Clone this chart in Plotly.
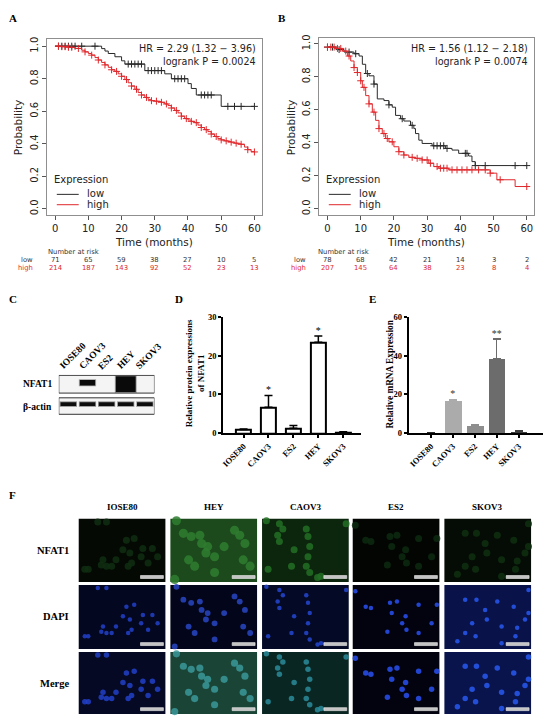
import numpy as np
import plotly.graph_objects as go

W, H = 550, 726

# ======================= DATA =======================
# --- Panel A : Kaplan-Meier ---
A_low_t = [0, 14, 15, 16, 18, 20, 21, 27, 33, 35, 40, 41, 42.5, 50, 60]
A_low_s = [1.0, 0.985, 0.97, 0.955, 0.935, 0.91, 0.89, 0.85, 0.83, 0.80, 0.77, 0.74, 0.70, 0.63, 0.63]
A_low_cens = [1, 2, 3, 4, 5, 6, 8, 12, 22, 23, 24, 25, 26, 28, 29, 30, 31, 32,
              36, 37, 38, 39, 44, 45, 46, 47, 52, 54, 56, 60]
A_high_t = [0, 2, 4, 6, 8, 9, 10, 11, 12, 13, 14, 15, 16, 17, 18, 19, 20, 21, 22, 23,
            24, 25, 26, 27, 28, 29, 30, 31, 32, 33, 34, 35, 36, 37, 38, 39, 40, 41, 42,
            43, 44, 45, 46, 47, 48, 49, 50, 51, 52, 53, 54, 55, 56, 57, 58, 59, 60]
A_high_s = [1.0, 0.997, 0.993, 0.986, 0.975, 0.965, 0.955, 0.945, 0.93, 0.915, 0.90,
            0.885, 0.87, 0.855, 0.845, 0.83, 0.815, 0.795, 0.775, 0.755, 0.735, 0.715,
            0.70, 0.685, 0.673, 0.665, 0.662, 0.66, 0.655, 0.645, 0.635, 0.62, 0.605,
            0.59, 0.57, 0.555, 0.546, 0.538, 0.53, 0.515, 0.50, 0.487, 0.475, 0.46,
            0.445, 0.432, 0.424, 0.418, 0.414, 0.41, 0.404, 0.40, 0.397, 0.38, 0.364,
            0.352, 0.35]
A_high_cens = [1, 2, 3, 4, 5, 7, 9, 11, 13, 15, 17, 18.5, 20, 21.5, 23, 24.5, 26, 27.5,
               29, 30.5, 32, 33.5, 35, 36.5, 38, 39.5, 41, 42.5, 44, 45.5, 47, 48.5, 50,
               51.5, 53, 54.5, 56, 58, 60]
A_hr = "HR = 2.29 (1.32 \u2212 3.96)"
A_p = "logrank P = 0.0024"

# --- Panel B : Kaplan-Meier ---
B_low_t = [0, 3, 5, 8, 9.5, 10.5, 11.5, 12.5, 14, 15, 17, 18.5, 19.5, 20.5, 22, 23, 25,
           26, 26.5, 27.5, 28.5, 31.5, 35.5, 37.5, 39.5, 42.5, 43.5, 44.5, 60]
B_low_s = [0.98, 0.965, 0.95, 0.94, 0.926, 0.876, 0.82, 0.806, 0.756, 0.666, 0.656, 0.63,
           0.616, 0.566, 0.546, 0.532, 0.506, 0.486, 0.456, 0.416, 0.396, 0.382, 0.366,
           0.356, 0.336, 0.32, 0.286, 0.262, 0.262]
B_low_cens = [0, 1.5, 3.5, 6.5, 8.5, 12, 14, 18.5, 22.5, 25.5, 32, 33, 34, 35, 36, 41.5,
              42, 44.5, 47.5, 56.5, 60]
B_high_t = [0, 2.5, 4.5, 6, 7, 8, 9, 10, 10.5, 11.5, 12.5, 13.5, 14.5, 15.5, 16.5, 17.5,
            18.5, 20, 21.5, 23, 24.5, 26.5, 28.5, 30.5, 32, 33.5, 36.5, 49, 51, 56.5, 60]
B_high_s = [0.98, 0.972, 0.956, 0.926, 0.896, 0.856, 0.826, 0.776, 0.736, 0.686, 0.636,
            0.586, 0.536, 0.486, 0.456, 0.426, 0.406, 0.376, 0.346, 0.326, 0.312, 0.306,
            0.296, 0.276, 0.256, 0.246, 0.236, 0.216, 0.176, 0.135, 0.135]
B_high_cens = [0, 1, 2, 3, 4, 5.5, 6.5, 8, 9, 10, 11, 12.5, 14, 15.5, 17, 18, 19.5, 21.5,
               23, 25.5, 27, 28.5, 30, 31, 33, 34, 35, 36, 37.5, 39, 40.5, 42, 43.5, 45.5,
               47.5, 49, 52, 60]
B_hr = "HR = 1.56 (1.12 \u2212 2.18)"
B_p = "logrank P = 0.0074"

# --- Numbers at risk ---
risk_times = [0, 10, 20, 30, 40, 50, 60]
A_risk_low = [71, 65, 59, 38, 27, 10, 5]
A_risk_high = [214, 187, 143, 92, 52, 23, 13]
B_risk_low = [78, 68, 42, 21, 14, 3, 2]
B_risk_high = [207, 145, 64, 38, 23, 8, 4]

# --- Panels C/D/E ---
cells = ["IOSE80", "CAOV3", "ES2", "HEY", "SKOV3"]
blot_nfat1 = [0.0, 0.25, 0.0, 1.0, 0.0]      # relative band strength
blot_actin = [1.0, 1.0, 1.0, 1.0, 1.0]
D_mean = [1.0, 6.7, 1.3, 23.4, 0.3]
D_err = [0.1, 3.0, 0.7, 1.6, 0.1]
D_sig = ["", "*", "", "*", ""]
E_mean = [0.3, 16.8, 3.8, 38.3, 0.8]
E_err = [0.1, 0.4, 0.8, 10.2, 0.4]
E_sig = ["", "*", "", "**", ""]

# --- Panel F : immunofluorescence ---
F_cols = ["IOSE80", "HEY", "CAOV3", "ES2", "SKOV3"]
F_rows = ["NFAT1", "DAPI", "Merge"]
F_nuclei_u = {
    "IOSE80": [0.22, 0.32, 0.55, 0.64, 0.59, 0.51, 0.74, 0.85, 0.91, 0.72, 0.43, 0.28, 0.26, 0.32, 0.61, 0.80, 0.07, 0.11, 0.38, 0.57],
    "HEY":    [0.07, 0.15, 0.24, 0.34, 0.36, 0.43, 0.41, 0.51, 0.62, 0.74, 0.80, 0.86, 0.84, 0.92, 0.21, 0.28, 0.05, 0.51],
    "CAOV3":  [0.20, 0.24, 0.18, 0.20, 0.51, 0.53, 0.55, 0.53, 0.51, 0.55, 0.37, 0.68, 0.97, 0.05, 0.07, 0.64, 0.34],
    "ES2":    [0.03, 0.15, 0.43, 0.51, 0.76, 0.97, 0.45, 0.61, 0.57, 0.40, 0.62, 0.76, 0.91, 0.21],
    "SKOV3":  [0.24, 0.37, 0.47, 0.61, 0.80, 0.97, 0.93, 0.32, 0.49, 0.66, 0.84, 0.36, 0.15, 0.24, 0.66, 0.82, 0.97],
}
F_nuclei_v = {
    "IOSE80": [0.05, 0.05, 0.34, 0.31, 0.54, 0.49, 0.47, 0.47, 0.60, 0.60, 0.65, 0.65, 0.73, 0.75, 0.70, 0.70, 0.80, 0.80, 0.75, 0.75],
    "HEY":    [0.03, 0.23, 0.28, 0.26, 0.39, 0.44, 0.54, 0.60, 0.44, 0.18, 0.26, 0.39, 0.65, 0.75, 0.65, 0.75, 0.96, 0.85],
    "CAOV3":  [0.08, 0.16, 0.26, 0.36, 0.16, 0.28, 0.44, 0.60, 0.75, 0.85, 0.49, 0.91, 0.08, 0.03, 0.80, 0.93, 0.75],
    "ES2":    [0.10, 0.34, 0.28, 0.26, 0.31, 0.31, 0.44, 0.49, 0.60, 0.73, 0.70, 0.75, 0.60, 0.36],
    "SKOV3":  [0.23, 0.23, 0.39, 0.26, 0.34, 0.44, 0.54, 0.60, 0.54, 0.65, 0.67, 0.80, 0.88, 0.75, 0.91, 0.80, 0.08],
}

# ======================= STYLE =======================
RED = "#e0282c"
BLK = "#2a2a2a"
SANS = "DejaVu Sans"
SERIF = "Liberation Serif"

F_bg = {
    "NFAT1": {"IOSE80": "#040904", "HEY": "#1c4a1c", "CAOV3": "#0c250d", "ES2": "#030503", "SKOV3": "#050c05"},
    "DAPI":  {"IOSE80": "#040720", "HEY": "#03051a", "CAOV3": "#040926", "ES2": "#02030e", "SKOV3": "#09134a"},
    "Merge": {"IOSE80": "#050924", "HEY": "#1a4436", "CAOV3": "#0a2622", "ES2": "#02030e", "SKOV3": "#0a144c"},
}
F_cell = {
    "NFAT1": {"IOSE80": "#0f2e10", "HEY": "#2f7d30", "CAOV3": "#236e25", "ES2": "#0d2a10", "SKOV3": "#0f3011"},
    "DAPI":  {"IOSE80": "#2240c8", "HEY": "#2846c4", "CAOV3": "#2446d0", "ES2": "#2850f0", "SKOV3": "#2858f0"},
    "Merge": {"IOSE80": "#2240c8", "HEY": "#3a9898", "CAOV3": "#2a8c9a", "ES2": "#2850f0", "SKOV3": "#2858f0"},
}
F_size = {"NFAT1": 7, "DAPI": 4.5, "Merge": 5.5}
col_x0 = [77, 169, 261, 352, 444]
col_w = 87
row_y0 = [521, 588, 656]
row_h = [64, 65, 63]

fig = go.Figure()


def step_val(t, s, c):
    idx = np.searchsorted(np.array(t), np.array(c), side="right") - 1
    return np.array(s)[idx]


# ---------- KM curves ----------
km = [
    ("x", "y", A_low_t, A_low_s, A_low_cens, BLK),
    ("x", "y", A_high_t, A_high_s, A_high_cens, RED),
    ("x2", "y2", B_low_t, B_low_s, B_low_cens, BLK),
    ("x2", "y2", B_high_t, B_high_s, B_high_cens, RED),
]
for xa, ya, t, s, cens, col in km:
    fig.add_trace(go.Scatter(x=t, y=s, mode="lines", line=dict(color=col, width=1, shape="hv"),
                             xaxis=xa, yaxis=ya, showlegend=False, hoverinfo="skip"))
    fig.add_trace(go.Scatter(x=cens, y=step_val(t, s, cens), mode="markers",
                             marker=dict(symbol="cross-thin", size=5, line=dict(color=col, width=1)),
                             xaxis=xa, yaxis=ya, showlegend=False, hoverinfo="skip"))

# ---------- Panel D bars ----------
xs = list(range(len(cells)))
fig.add_trace(go.Bar(x=xs, y=D_mean, width=0.6, xaxis="x3", yaxis="y3",
                     marker=dict(color="white", line=dict(color="black", width=2)),
                     error_y=dict(type="data", symmetric=False, array=D_err, arrayminus=[0] * 5,
                                  color="black", thickness=1.5, width=4),
                     showlegend=False))
fig.add_trace(go.Scatter(x=xs, y=[m + e for m, e in zip(D_mean, D_err)], text=D_sig, mode="text",
                         textposition="top center", xaxis="x3", yaxis="y3",
                         textfont=dict(family=SERIF, size=10, color="black"), showlegend=False))

# ---------- Panel E bars ----------
E_colors = ["#2c2c2c", "#ababab", "#8e8e8e", "#6c6c6c", "#3c3c3c"]
for i in xs:
    fig.add_trace(go.Bar(x=[i], y=[E_mean[i]], width=0.75, xaxis="x4", yaxis="y4",
                         marker=dict(color=E_colors[i], line=dict(width=0)),
                         error_y=dict(type="data", symmetric=False, array=[E_err[i]], arrayminus=[0],
                                      color=E_colors[i], thickness=1.5, width=4),
                         showlegend=False))
fig.add_trace(go.Scatter(x=xs, y=[m + e for m, e in zip(E_mean, E_err)], text=E_sig, mode="text",
                         textposition="top center", xaxis="x4", yaxis="y4",
                         textfont=dict(family=SERIF, size=10, color="#333"), showlegend=False))

# ---------- Panel F cells ----------
shapes = []
for r, row in enumerate(F_rows):
    for c, line in enumerate(F_cols):
        x0, y0, h = col_x0[c], row_y0[r], row_h[r]
        shapes.append(dict(type="rect", xref="x6", yref="y6", x0=x0, x1=x0 + col_w, y0=y0, y1=y0 + h,
                           fillcolor=F_bg[row][line], line=dict(width=0), layer="below"))
        u = np.array(F_nuclei_u[line])
        v = np.array(F_nuclei_v[line])
        sz = F_size[row] * (1.3 if line == "HEY" else 1.0)
        fig.add_trace(go.Scatter(x=x0 + u * col_w, y=y0 + v * h, mode="markers", xaxis="x6", yaxis="y6",
                                 marker=dict(color=F_cell[row][line], size=sz, line=dict(width=0),
                                             opacity=0.85),
                                 showlegend=False, hoverinfo="skip"))
        shapes.append(dict(type="rect", xref="x6", yref="y6", x0=x0 + 62, x1=x0 + 85,
                           y0=y0 + h - 6.5, y1=y0 + h - 3.5, fillcolor="#c4c4c4",
                           line=dict(color="#eeeeee", width=0.6)))

# ---------- Panel C blot ----------
shapes.append(dict(type="rect", xref="x5", yref="y5", x0=-0.5, x1=4.5, y0=375.5, y1=393.5,
                   fillcolor="#f4f4f4", line=dict(color="#333", width=1), layer="below"))
shapes.append(dict(type="rect", xref="x5", yref="y5", x0=-0.5, x1=4.5, y0=398.3, y1=415,
                   fillcolor="#f4f4f4", line=dict(color="#333", width=1), layer="below"))
for i, lvl in enumerate(blot_nfat1):
    if lvl > 0:
        hw = 0.36 + 0.16 * lvl
        th = 2 + 14 * lvl
        yc = 382.5 + 2 * lvl
        shapes.append(dict(type="rect", xref="x5", yref="y5", x0=i - hw - 0.05, x1=i + hw + 0.05,
                           y0=yc - th / 2 - 0.8, y1=yc + th / 2 + 0.8, fillcolor="rgba(60,60,60,0.45)",
                           line=dict(width=0)))
        shapes.append(dict(type="rect", xref="x5", yref="y5", x0=i - hw, x1=i + hw,
                           y0=yc - th / 2, y1=yc + th / 2, fillcolor="#0a0a0a", line=dict(width=0)))
for i, lvl in enumerate(blot_actin):
    hw = 0.41 * lvl
    shapes.append(dict(type="rect", xref="x5", yref="y5", x0=i - hw - 0.04, x1=i + hw + 0.04,
                       y0=401.8, y1=407.6, fillcolor="rgba(60,60,60,0.45)", line=dict(width=0)))
    shapes.append(dict(type="rect", xref="x5", yref="y5", x0=i - hw, x1=i + hw,
                       y0=402.7, y1=406.7, fillcolor="#0d0d0d", line=dict(width=0)))

# ---------- Annotations ----------
ann = []


def A(x, y, text, size, family=SANS, color="#222", xa="center", ya="middle", bold=False, angle=0,
      xref="x6", yref="y6"):
    ann.append(dict(x=x, y=y, xref=xref, yref=yref, text=text, showarrow=False, xanchor=xa, yanchor=ya,
                    textangle=angle,
                    font=dict(family=family, size=size, color=color, weight="bold" if bold else "normal")))


for lbl, x, y in [("A", 11, 13), ("B", 281, 13), ("C", 11, 298), ("D", 178, 298), ("E", 372, 298),
                  ("F", 11, 497)]:
    A(x, y, lbl, 11, family=SERIF, color="black", bold=True)

for (box_l, box_r, hr, p, rl, rh, xr, lab_c, row_r, prob_x) in [
    (45, 261, A_hr, A_p, A_risk_low, A_risk_high, "x", 72, 33, 16),
    (318, 534, B_hr, B_p, B_risk_low, B_risk_high, "x2", 343, 307, 290),
]:
    A(box_r - 4, 44, hr, 9.6, xa="right")
    A(box_r - 4, 57, p, 9.6, xa="right")
    A((box_l + box_r) / 2, 240, "Time (months)", 10.5)
    A(prob_x, 124, "Probability", 10.5, angle=-90)
    A(box_l + 5, 177, "Expression", 10, xa="left")
    A(box_l + 38, 191.5, "low", 10, xa="left")
    A(box_l + 38, 202.5, "high", 10, xa="left")
    shapes.append(dict(type="line", xref="x6", yref="y6", x0=box_l + 10, x1=box_l + 32, y0=192, y1=192,
                       line=dict(color=BLK, width=1)))
    shapes.append(dict(type="line", xref="x6", yref="y6", x0=box_l + 10, x1=box_l + 32, y0=202.5,
                       y1=202.5, line=dict(color=RED, width=1)))
    A(lab_c, 250, "Number at risk", 6.8, color="#333")
    A(row_r, 258.5, "low", 6.8, xa="right", color="#333")
    A(row_r, 266.8, "high", 6.8, xa="right", color=RED)
    for tt, a, b in zip(risk_times, rl, rh):
        A(tt, 258.5, str(a), 6.8, color="#333", xref=xr)
        A(tt, 266.8, str(b), 6.8, color=RED, xref=xr)

# blot lane labels (rotated, lower-left end just above each lane)
lane_px = [57 + 96 / 5 * (i + 0.5) for i in range(5)]
label_len = {"IOSE80": 32, "CAOV3": 33, "ES2": 16.5, "HEY": 20.6, "SKOV3": 31.7}
for i, name in enumerate(cells):
    L = label_len[name]
    cx = lane_px[i] - 5 + L / 2 * 0.707 - 2
    cy = 370 - L / 2 * 0.707 - 2.5
    A(cx, cy, name, 9.5, family=SERIF, color="black", bold=True, angle=-45)
A(52, 384.5, "NFAT1", 9.5, family=SERIF, color="black", bold=True, xa="right")
A(52, 407.5, "\u03b2-actin", 9.5, family=SERIF, color="black", bold=True, xa="right")

A(194, 373, "Relative protein expressions<br>of NFAT1", 9, family=SERIF, color="black", bold=True, angle=-90)
A(389, 374, "Relative mRNA Expression", 9.3, family=SERIF, color="black", bold=True, angle=-90)

for c, name in enumerate(F_cols):
    A(col_x0[c] + col_w / 2, 509, name, 9, family=SERIF, color="black", bold=True)
for r, name in enumerate(F_rows):
    A(69, row_y0[r] + row_h[r] / 2, name, 10.5, family=SERIF, color="black", bold=True, xa="right")

# ---------- Axes ----------
km_tickfont = dict(family=SANS, size=10, color="#222")


def km_x(dom, rng, anchor):
    return dict(domain=dom, range=rng, tickvals=[0, 10, 20, 30, 40, 50, 60], ticks="outside", ticklen=4,
                tickcolor="#555", showline=True, mirror=True, linecolor="#8f8f8f", linewidth=1,
                showgrid=False, zeroline=False, tickfont=km_tickfont, anchor=anchor)


def km_y(dom, rng, anchor):
    return dict(domain=dom, range=rng, tickvals=[0, 0.2, 0.4, 0.6, 0.8, 1.0],
                ticktext=["0.0", "0.2", "0.4", "0.6", "0.8", "1.0"], tickangle=-90, ticks="outside",
                ticklen=4, tickcolor="#555", showline=True, mirror=True, linecolor="#8f8f8f",
                linewidth=1, showgrid=False, zeroline=False, tickfont=km_tickfont, anchor=anchor)


bar_font = dict(family=SERIF, size=8.5, color="black", weight="bold")


def bar_x(dom, rng, anchor):
    return dict(domain=dom, range=rng, tickvals=list(range(5)), ticktext=cells, tickangle=-45,
                ticks="outside", ticklen=3, tickwidth=1.5, tickcolor="black", showline=True,
                linecolor="black", linewidth=1.6, showgrid=False, zeroline=False, tickfont=bar_font,
                anchor=anchor)


def bar_y(dom, rng, tv, anchor):
    return dict(domain=dom, range=rng, tickvals=tv, ticks="outside", ticklen=3, tickwidth=1.5,
                tickcolor="black", showline=True, linecolor="black", linewidth=1.6, showgrid=False,
                zeroline=False, tickfont=bar_font, anchor=anchor)


ydom_bar = [1 - 434.3 / H, 1 - 316 / H]

fig.update_layout(
    width=W, height=H, margin=dict(l=0, r=0, t=0, b=0, pad=0),
    paper_bgcolor="white", plot_bgcolor="rgba(0,0,0,0)", showlegend=False,
    xaxis=km_x([45 / W, 261 / W], [-2.5, 62.3], "y"),
    yaxis=km_y([1 - 213 / H, 1 - 34 / H], [-0.038, 1.047], "x"),
    xaxis2=km_x([318 / W, 534 / W], [-2.6, 62.2], "y2"),
    yaxis2=km_y([1 - 213 / H, 1 - 33 / H], [-0.038, 1.038], "x2"),
    xaxis3=bar_x([221.7 / W, 360 / W], [-0.83, 4.7], "y3"),
    yaxis3=bar_y(ydom_bar, [0, 30], [0, 10, 20, 30], "x3"),
    xaxis4=bar_x([408 / W, 543 / W], [-1.02, 5.11], "y4"),
    yaxis4=bar_y(ydom_bar, [0, 60], [0, 20, 40, 60], "x4"),
    xaxis5=dict(domain=[57 / W, 153 / W], range=[-0.5, 4.5], visible=False, anchor="y5"),
    yaxis5=dict(domain=[1 - 416 / H, 1 - 375 / H], range=[416, 375], visible=False, anchor="x5"),
    xaxis6=dict(domain=[0, 1], range=[0, W], visible=False, anchor="y6"),
    yaxis6=dict(domain=[0, 1], range=[H, 0], visible=False, anchor="x6"),
    shapes=shapes, annotations=ann, bargap=0,
)

fig.write_html("out.html", config={"displayModeBar": False},
               post_script="document.body.style.margin='0px';")
